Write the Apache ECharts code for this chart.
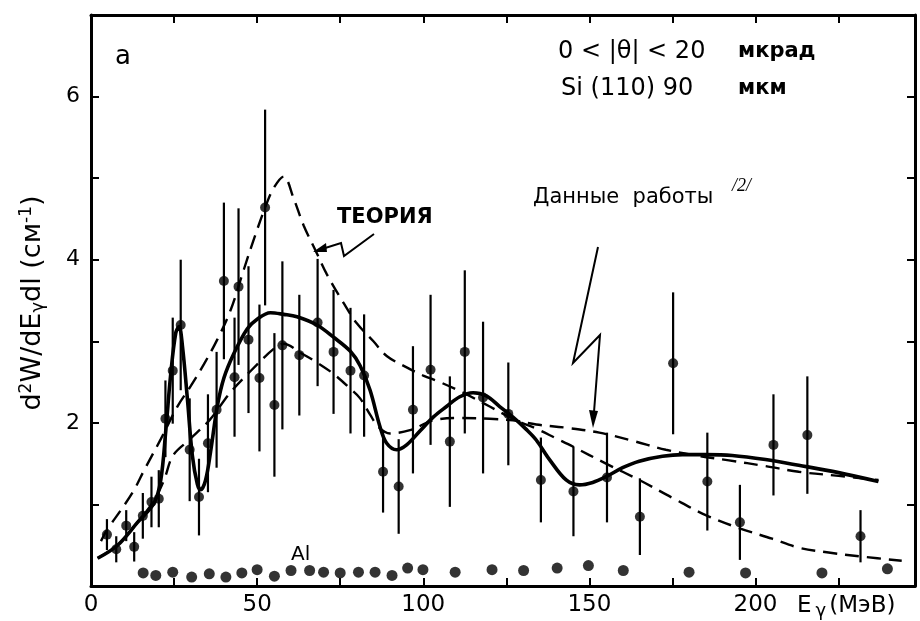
<!DOCTYPE html>
<html>
<head>
<meta charset="utf-8">
<script src="https://cdn.jsdelivr.net/npm/echarts@6/dist/echarts.min.js"></script>
<style>html,body{margin:0;padding:0;background:#fff}#c{width:920px;height:621px}</style>
</head>
<body>
<div id="c"></div>
<script>
// ---- data ----
const xTickLabels = [0, 50, 100, 150, 200];
const yTickLabels = [2, 4, 6];

// measured Si(110) points
const expX = [4.8, 7.6, 10.6, 13, 15.6, 18.2, 20.4, 22.4, 24.6, 27, 29.7, 32.5, 35.2, 37.8, 40, 43.2, 44.4, 47.4, 50.7, 52.4, 55.2, 57.6, 62.7, 68.2, 73, 78.1, 82.2, 87.9, 92.6, 96.9, 102.2, 108, 112.5, 118, 125.6, 135.4, 145.2, 155.3, 165.2, 175.2, 185.5, 195.3, 205.4, 215.6, 231.6];
const expY = [0.63, 0.45, 0.74, 0.48, 0.86, 1.03, 1.07, 2.05, 2.64, 3.2, 1.67, 1.09, 1.75, 2.16, 3.74, 2.56, 3.67, 3.02, 2.55, 4.64, 2.22, 2.95, 2.83, 3.23, 2.87, 2.64, 2.58, 1.4, 1.22, 2.16, 2.65, 1.77, 2.87, 2.31, 2.11, 1.3, 1.16, 1.33, 0.85, 2.73, 1.28, 0.78, 1.73, 1.85, 0.61];
const expErr = [0.19, 0.16, 0.19, 0.18, 0.28, 0.31, 0.35, 0.47, 0.65, 0.8, 0.63, 0.47, 0.6, 0.71, 0.96, 0.73, 0.96, 0.9, 0.9, 1.2, 0.88, 1.03, 0.74, 0.78, 0.76, 0.77, 0.75, 0.5, 0.58, 0.78, 0.92, 0.8, 1.0, 0.93, 0.63, 0.52, 0.55, 0.55, 0.47, 0.87, 0.6, 0.46, 0.62, 0.72, 0.32];

// Al points
const alX = [15.7, 19.5, 24.6, 30.3, 35.6, 40.6, 45.4, 50, 55.2, 60.2, 65.8, 70, 75, 80.5, 85.5, 90.6, 95.3, 99.9, 109.6, 120.7, 130.2, 140.3, 149.7, 160.2, 180, 197, 220, 239.7];
const alY = [0.16, 0.13, 0.17, 0.11, 0.15, 0.11, 0.16, 0.2, 0.12, 0.19, 0.19, 0.17, 0.16, 0.17, 0.17, 0.13, 0.22, 0.2, 0.17, 0.2, 0.19, 0.22, 0.25, 0.19, 0.17, 0.16, 0.16, 0.21];

// solid fitted curve
const fitX = [2, 8, 14, 19, 21, 22.5, 24, 25.5, 26.5, 27.5, 29, 30.5, 32, 33, 34.5, 36, 38, 40, 43, 47, 50, 54, 58, 62, 68, 73, 78, 81, 84, 87, 89, 92, 95, 99, 103, 107, 111, 115, 119, 123, 127, 131, 134, 138, 143, 147, 151, 155, 160, 165, 172, 178, 185, 193, 203, 213, 225, 237];
const fitY = [0.34, 0.5, 0.78, 1.02, 1.3, 1.9, 2.6, 3.1, 3.18, 2.95, 2.3, 1.6, 1.25, 1.18, 1.3, 1.65, 2.2, 2.55, 2.85, 3.15, 3.27, 3.35, 3.33, 3.3, 3.2, 3.05, 2.88, 2.7, 2.4, 1.95, 1.75, 1.67, 1.73, 1.9, 2.07, 2.2, 2.32, 2.37, 2.33, 2.2, 2.07, 1.92, 1.79, 1.55, 1.3, 1.24, 1.27, 1.34, 1.45, 1.53, 1.59, 1.61, 1.61, 1.6, 1.55, 1.48, 1.39, 1.28];

// dashed "ТЕОРИЯ" curve
const theoryX = [3, 5, 9, 13, 16, 21, 26, 30, 34, 38, 42, 46, 49, 52.5, 55, 58, 61, 64, 67.5, 71, 76, 80, 85, 89, 95, 100, 105, 112, 120, 128, 134, 140, 145, 155, 165, 175, 185, 195, 205, 213, 222, 232, 244];
const theoryY = [0.55, 0.7, 0.93, 1.18, 1.42, 1.8, 2.2, 2.45, 2.72, 3.02, 3.38, 3.88, 4.25, 4.65, 4.88, 5.02, 4.75, 4.42, 4.12, 3.82, 3.47, 3.22, 3.0, 2.82, 2.68, 2.58, 2.5, 2.37, 2.2, 2.03, 1.93, 1.81, 1.71, 1.5, 1.3, 1.08, 0.87, 0.71, 0.58, 0.47, 0.41, 0.36, 0.31];

// dashed curve "Данные работы /2/"
const work2X = [2, 8, 14, 19, 22, 24.7, 29.8, 35.8, 41.9, 47.9, 54.8, 58, 63, 68, 73, 78, 81, 84, 86.5, 90, 96, 103, 111, 120, 127, 134, 143, 153, 163, 173, 182, 192, 203, 213, 225, 237];
const work2Y = [0.34, 0.5, 0.78, 1.05, 1.3, 1.6, 1.8, 2.04, 2.37, 2.63, 2.9, 2.97, 2.86, 2.74, 2.6, 2.42, 2.3, 2.1, 1.95, 1.87, 1.91, 2.03, 2.06, 2.05, 2.03, 1.98, 1.94, 1.88, 1.78, 1.67, 1.6, 1.54, 1.47, 1.4, 1.35, 1.3];

const zip = (a, b) => a.map((v, i) => [v, b[i]]);
const zip3 = (a, b, c) => a.map((v, i) => [v, b[i], c[i]]);

const FONT = "'DejaVu Sans', 'Liberation Sans', sans-serif";
const chart = echarts.init(document.getElementById('c'), null, {renderer: 'canvas'});

const errBar = (params, api) => {
  const x = api.value(0), y = api.value(1), e = api.value(2);
  const p1 = api.coord([x, y + e]);
  const p2 = api.coord([x, Math.max(0, y - e)]);
  return {type: 'line', shape: {x1: p1[0], y1: p1[1], x2: p2[0], y2: p2[1]},
          style: {stroke: '#000', lineWidth: 2.2}};
};

const axisCommon = {
  splitLine: {show: false},
  axisLine: {show: true, onZero: false, lineStyle: {color: '#000', width: 3}},
  axisTick: {show: true, inside: true, length: 8, lineStyle: {color: '#000', width: 2}},
};

const option = {
  backgroundColor: '#fff',
  animation: false,
  grid: {left: 91, top: 15, right: 5, bottom: 35, show: false},
  xAxis: [
    Object.assign({}, axisCommon, {
      type: 'value', position: 'bottom', min: 0, max: 248, interval: 25,
      axisLabel: {show: true, margin: 8, color: '#000', fontSize: 23, fontFamily: FONT,
        formatter: v => xTickLabels.includes(v) ? String(v) : ''},
    }),
    Object.assign({}, axisCommon, {
      type: 'value', position: 'top', min: 0, max: 248, interval: 25,
      axisLabel: {show: false},
    })
  ],
  yAxis: [
    Object.assign({}, axisCommon, {
      type: 'value', position: 'left', min: 0, max: 7, interval: 1,
      axisLabel: {show: true, margin: 11, color: '#000', fontSize: 22, fontFamily: FONT,
        formatter: v => yTickLabels.includes(v) ? String(v) : ''},
    }),
    Object.assign({}, axisCommon, {
      type: 'value', position: 'right', min: 0, max: 7, interval: 1,
      axisLabel: {show: false},
    })
  ],
  series: [
    {type: 'line', name: 'fit', data: zip(fitX, fitY), smooth: 0.35, symbol: 'none',
     lineStyle: {color: '#000', width: 3.6}, z: 5},
    {type: 'line', name: 'theory', data: zip(theoryX, theoryY), smooth: 0.35, symbol: 'none',
     lineStyle: {color: '#000', width: 2.4, type: [14, 8]}, z: 4},
    {type: 'line', name: 'work2', data: zip(work2X, work2Y), smooth: 0.35, symbol: 'none',
     lineStyle: {color: '#000', width: 2.4, type: [14, 8]}, z: 4},
    {type: 'custom', name: 'err', data: zip3(expX, expY, expErr), renderItem: errBar, z: 6},
    {type: 'scatter', name: 'Si', data: zip(expX, expY), symbol: 'circle', symbolSize: 10,
     itemStyle: {color: '#000'}, z: 7},
    {type: 'scatter', name: 'Al', data: zip(alX, alY), symbol: 'circle', symbolSize: 11,
     itemStyle: {color: '#000'}, z: 7},
  ],
  graphic: [
    // y-axis title
    {type: 'text', x: 33, y: 303, rotation: Math.PI / 2,
     style: {text: '{n|d}{s|2}{n|W/dE}{b|γ}{n|dl (cм}{s|-1}{n|)}', align: 'center', verticalAlign: 'middle',
       rich: {
         n: {fontSize: 27, fontFamily: FONT, color: '#000'},
         s: {fontSize: 17, fontFamily: FONT, color: '#000', verticalAlign: 'top', padding: [0, 0, 12, 0]},
         b: {fontSize: 18, fontFamily: FONT, color: '#000', verticalAlign: 'bottom', padding: [10, 0, 0, 0]}
       }}},
    // x-axis title
    {type: 'text', x: 797, y: 606,
     style: {text: '{n|E}{b|γ}{n|(МэВ)}', verticalAlign: 'middle',
       rich: {
         n: {fontSize: 23, fontFamily: FONT, color: '#000'},
         b: {fontSize: 18, fontFamily: FONT, color: '#000', verticalAlign: 'bottom', padding: [10, 3, 0, 4]}
       }}},
    {type: 'text', x: 115, y: 57, style: {text: 'a', font: '26px ' + FONT, fill: '#000', verticalAlign: 'middle'}},
    {type: 'text', x: 558, y: 52, style: {text: '0 < |θ| < 20', font: '24px ' + FONT, fill: '#000', verticalAlign: 'middle'}},
    {type: 'text', x: 738, y: 52, style: {text: 'мкрад', font: 'bold 21px ' + FONT, fill: '#000', verticalAlign: 'middle'}},
    {type: 'text', x: 561, y: 89, style: {text: 'Si (110) 90', font: '24px ' + FONT, fill: '#000', verticalAlign: 'middle'}},
    {type: 'text', x: 738, y: 89, style: {text: 'мкм', font: 'bold 21px ' + FONT, fill: '#000', verticalAlign: 'middle'}},
    {type: 'text', x: 337, y: 218, style: {text: 'ТЕОРИЯ', font: 'bold 21px ' + FONT, fill: '#000', verticalAlign: 'middle'}},
    {type: 'text', x: 533, y: 198, style: {text: 'Данные  работы', font: '21px ' + FONT, fill: '#000', verticalAlign: 'middle'}},
    {type: 'text', x: 732, y: 186, style: {text: '/2/', font: 'italic 18px "Liberation Serif", serif', fill: '#000', verticalAlign: 'middle'}},
    {type: 'text', x: 291, y: 555, style: {text: 'Al', font: '20px ' + FONT, fill: '#000', verticalAlign: 'middle'}},
    // pointer for ТЕОРИЯ
    {type: 'polyline', shape: {points: [[374, 234], [344, 256], [341, 243], [322, 249]]},
     style: {stroke: '#000', lineWidth: 2, fill: null}},
    {type: 'polygon', shape: {points: [[313, 252], [326, 243], [327, 252]]}, style: {fill: '#000'}},
    // pointer for Данные работы
    {type: 'polyline', shape: {points: [[598, 247], [573, 363], [600, 335], [594, 412]]},
     style: {stroke: '#000', lineWidth: 2, fill: null}},
    {type: 'polygon', shape: {points: [[589, 410], [598, 411], [593, 428]]}, style: {fill: '#000'}},
  ]
};
chart.setOption(option);
</script>
</body>
</html>
